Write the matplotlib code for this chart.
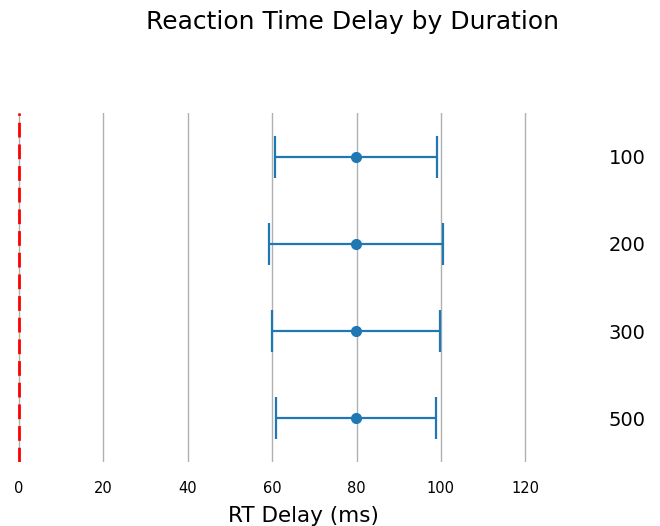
import numpy as np
import matplotlib.pyplot as plt

# mean reaction time delay per stimulus duration, with CI half-widths
durations = ['100', '200', '300', '500']
mean_delay = [79.8, 79.8, 79.9, 79.8]
ci_half = [19.2, 20.6, 19.9, 19.0]
xticks = [0, 20, 40, 60, 80, 100, 120]


def main():
    fig = plt.figure(figsize=[6.6, 5.26], dpi=100)
    ax = fig.add_axes([0.025, 0.122, 0.87, 0.663])

    ypos = np.arange(len(durations))
    ax.errorbar(mean_delay, ypos, xerr=ci_half, fmt='o', color='#1f77b4',
                ms=7, lw=1.6, capsize=15, capthick=1.6, zorder=3)

    # zero reference line
    ax.axvline(0, color='red', lw=2, ls=(0, (5.3, 2.5)), zorder=4)

    ax.set_xlim(-0.6, 135.5)
    ax.set_ylim(3.5, -0.5)
    ax.set_xticks(xticks)
    ax.set_yticks(ypos)
    ax.set_yticklabels(durations)
    ax.yaxis.tick_right()
    ax.tick_params(axis='x', length=0, labelsize=10.5, pad=14)
    ax.tick_params(axis='y', length=0, labelsize=14, pad=13)

    ax.grid(axis='x', color='#b0b0b0', lw=1)
    ax.set_axisbelow(True)
    for s in ax.spines.values():
        s.set_visible(False)

    ax.set_xlabel('RT Delay (ms)', fontsize=15.5, labelpad=7)
    fig.text(352 / 660, 1 - 22 / 526, 'Reaction Time Delay by Duration',
             ha='center', va='center', fontsize=18)

    fig.savefig('out.png', dpi=100)


if __name__ == "__main__":
    main()
